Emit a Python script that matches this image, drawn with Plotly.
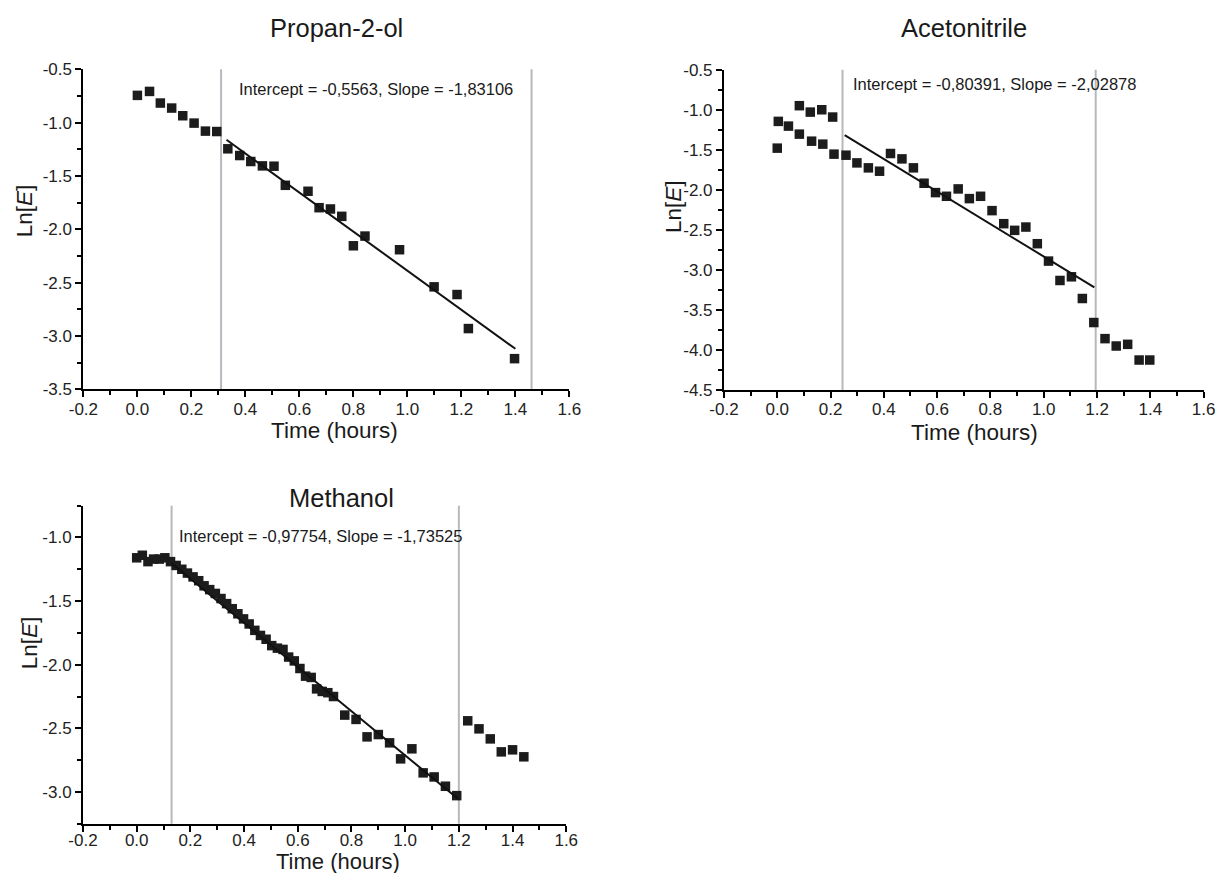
import plotly.graph_objects as go

# ---------------- data ----------------
# Propan-2-ol
prop_t = [0.0, 0.045, 0.085, 0.127, 0.168, 0.21, 0.252, 0.294, 0.335, 0.379, 0.42, 0.463,
          0.506, 0.548, 0.632, 0.673, 0.715, 0.757, 0.80, 0.843, 0.971, 1.099, 1.184, 1.226, 1.397]
prop_ln = [-0.744, -0.707, -0.816, -0.863, -0.935, -1.004, -1.079, -1.083, -1.245, -1.308, -1.364, -1.405,
           -1.408, -1.587, -1.643, -1.797, -1.809, -1.878, -2.154, -2.063, -2.191, -2.539, -2.611, -2.930, -3.212]
prop_window = [0.31, 1.46]
prop_fit_x = [0.33, 1.40]
prop_intercept, prop_slope = -0.5563, -1.83106

# Acetonitrile
acn_t = [0.0, 0.004, 0.042, 0.083, 0.083, 0.124, 0.129, 0.167, 0.171, 0.208, 0.213, 0.258, 0.299,
         0.342, 0.384, 0.425, 0.468, 0.511, 0.551, 0.594, 0.635, 0.679, 0.721, 0.763, 0.806, 0.85,
         0.891, 0.933, 0.976, 1.018, 1.061, 1.104, 1.145, 1.188, 1.23, 1.272, 1.315, 1.358, 1.398]
acn_ln = [-1.48, -1.146, -1.205, -0.95, -1.305, -1.03, -1.393, -1.001, -1.43, -1.092, -1.555, -1.568, -1.664,
          -1.726, -1.768, -1.547, -1.614, -1.726, -1.918, -2.035, -2.081, -1.989, -2.11, -2.081, -2.26, -2.423,
          -2.506, -2.465, -2.673, -2.89, -3.132, -3.086, -3.357, -3.657, -3.858, -3.95, -3.929, -4.125, -4.125]
acn_window = [0.245, 1.195]
acn_fit_x = [0.253, 1.19]
acn_intercept, acn_slope = -0.80391, -2.02878

# Methanol
meoh_t = [0.0, 0.021, 0.042, 0.063, 0.084, 0.105, 0.126, 0.147, 0.168, 0.189, 0.21, 0.231, 0.251,
          0.272, 0.293, 0.314, 0.335, 0.356, 0.377, 0.398, 0.419, 0.44, 0.461, 0.482, 0.503, 0.524,
          0.545, 0.566, 0.587, 0.608, 0.629, 0.65, 0.67, 0.691, 0.712, 0.733,
          0.775, 0.817, 0.858, 0.9, 0.942, 0.983, 1.025, 1.067, 1.108, 1.15, 1.192,
          1.233, 1.275, 1.317, 1.358, 1.4, 1.442]
meoh_ln = [-1.16, -1.14, -1.19, -1.17, -1.17, -1.16, -1.19, -1.22, -1.25, -1.28, -1.31, -1.34, -1.38,
           -1.41, -1.44, -1.48, -1.52, -1.56, -1.60, -1.64, -1.68, -1.73, -1.77, -1.80, -1.85, -1.87,
           -1.88, -1.94, -1.97, -2.03, -2.09, -2.10, -2.19, -2.21, -2.22, -2.25,
           -2.396, -2.43, -2.567, -2.549, -2.614, -2.74, -2.661, -2.85, -2.882, -2.955, -3.029,
           -2.441, -2.504, -2.583, -2.685, -2.669, -2.724]
meoh_window = [0.13, 1.20]
meoh_fit_x = [0.13, 1.20]
meoh_intercept, meoh_slope = -0.97754, -1.73525

titles = ["Propan-2-ol", "Acetonitrile", "Methanol"]
fit_labels = ["Intercept = -0,5563, Slope = -1,83106",
              "Intercept = -0,80391, Slope = -2,02878",
              "Intercept = -0,97754, Slope = -1,73525"]

x_ticks = [-0.2, 0.0, 0.2, 0.4, 0.6, 0.8, 1.0, 1.2, 1.4, 1.6]
x_ticktext = ["-0.2", "0.0", "0.2", "0.4", "0.6", "0.8", "1.0", "1.2", "1.4", "1.6"]
y1_ticks = [-0.5, -1.0, -1.5, -2.0, -2.5, -3.0, -3.5]
y1_ticktext = ["-0.5", "-1.0", "-1.5", "-2.0", "-2.5", "-3.0", "-3.5"]
y2_ticks = [-0.5, -1.0, -1.5, -2.0, -2.5, -3.0, -3.5, -4.0, -4.5]
y2_ticktext = ["-0.5", "-1.0", "-1.5", "-2.0", "-2.5", "-3.0", "-3.5", "-4.0", "-4.5"]
y3_ticks = [-1.0, -1.5, -2.0, -2.5, -3.0]
y3_ticktext = ["-1.0", "-1.5", "-2.0", "-2.5", "-3.0"]

# ---------------- figure ----------------
W, H = 1223, 873
FONT = "Liberation Sans, Arial, Helvetica, sans-serif"
MARK = "#1c1c1c"
GRAY = "#b5b9bd"


# layout positions are given as target picture pixels, converted for the
# slight scaling/offset observed in the rendered picture
def px_x(p):
    return min(max(((p - 14.3) / 0.978) / W, 0), 1)


def px_y(p):
    return min(max(1 - ((p - 8.8) / 0.976) / H, 0), 1)


fig = go.Figure()

panels = [
    dict(t=prop_t, y=prop_ln, win=prop_window, fx=prop_fit_x, b=prop_intercept, m=prop_slope,
         xa="x", ya="y"),
    dict(t=acn_t, y=acn_ln, win=acn_window, fx=acn_fit_x, b=acn_intercept, m=acn_slope,
         xa="x2", ya="y2"),
    dict(t=meoh_t, y=meoh_ln, win=meoh_window, fx=meoh_fit_x, b=meoh_intercept, m=meoh_slope,
         xa="x3", ya="y3"),
]

for p in panels:
    fig.add_trace(go.Scatter(x=p["t"], y=p["y"], mode="markers", xaxis=p["xa"], yaxis=p["ya"],
                             marker=dict(symbol="square", size=9.5, color=MARK, line=dict(width=0)),
                             showlegend=False, cliponaxis=False))
    fy = [p["b"] + p["m"] * xv for xv in p["fx"]]
    fig.add_trace(go.Scatter(x=p["fx"], y=fy, mode="lines", xaxis=p["xa"], yaxis=p["ya"],
                             line=dict(color="#111111", width=2), showlegend=False))
    for xv in p["win"]:
        fig.add_shape(type="line", xref=p["xa"], yref=p["ya"] + " domain", x0=xv, x1=xv, y0=0, y1=1,
                      line=dict(color=GRAY, width=2), layer="below")

# axis geometry in target pixels (left, right, top, bottom)
geo = [(82.7, 568.7, 69.0, 388.3), (723.3, 1203.0, 69.3, 389.0), (82.3, 565.6, 504.3, 821.7)]
yr = [[-3.5, -0.5], [-4.5, -0.5], [-3.25, -0.75]]
yt = [(y1_ticks, y1_ticktext), (y2_ticks, y2_ticktext), (y3_ticks, y3_ticktext)]
x_standoff = [-3, -3, -6]

common_axis = dict(showline=True, linecolor="black", linewidth=2, showgrid=False, zeroline=False,
                   ticks="outside", ticklen=6, tickwidth=2, tickcolor="black",
                   tickfont=dict(family=FONT, size=17, color="#222"))

for i, (l, r, t, b) in enumerate(geo):
    sx = "" if i == 0 else str(i + 1)
    fig.layout["xaxis" + sx] = dict(
        domain=[px_x(l), px_x(r)], range=[-0.2, 1.6], anchor="y" + sx,
        tickmode="array", tickvals=x_ticks, ticktext=x_ticktext, ticklabelstandoff=x_standoff[i],
        minor=dict(tickmode="linear", tick0=-0.2, dtick=0.1, ticks="outside", ticklen=4,
                   tickwidth=2, tickcolor="black"),
        **common_axis)
    fig.layout["yaxis" + sx] = dict(
        domain=[px_y(b), px_y(t)], range=yr[i], anchor="x" + sx,
        tickmode="array", tickvals=yt[i][0], ticktext=yt[i][1],
        minor=dict(tickmode="linear", tick0=-1.0, dtick=0.25, ticks="outside", ticklen=4,
                   tickwidth=2, tickcolor="black"),
        **common_axis)

ann = []
for txt, (cx, cy) in zip(titles, [(336, 28), (963, 28), (341, 497)]):
    ann.append(dict(text=txt, x=px_x(cx), y=px_y(cy), xref="paper", yref="paper",
                    showarrow=False, xanchor="center", yanchor="middle",
                    font=dict(family=FONT, size=25.5, color="#1a1a1a")))
for cx, cy, fs in [(334, 429, 22.5), (974, 431, 22.5), (337, 859, 22)]:
    ann.append(dict(text="Time (hours)", x=px_x(cx), y=px_y(cy), xref="paper", yref="paper",
                    showarrow=False, xanchor="center", yanchor="middle",
                    font=dict(family=FONT, size=fs, color="#1a1a1a")))
for cx, cy in [(24, 210), (672.7, 206), (29, 641)]:
    ann.append(dict(text="Ln[<i>E</i>]", x=px_x(cx), y=px_y(cy), xref="paper", yref="paper",
                    showarrow=False, xanchor="center", yanchor="middle", textangle=-90,
                    font=dict(family=FONT, size=22.5, color="#1a1a1a")))
for txt, (lx, cy) in zip(fit_labels, [(236.5, 89), (850.8, 84), (176, 535)]):
    ann.append(dict(text=txt, x=px_x(lx), y=px_y(cy), xref="paper", yref="paper", showarrow=False,
                    xanchor="left", yanchor="middle",
                    font=dict(family=FONT, size=16.5, color="#1a1a1a")))

fig.update_layout(width=W, height=H, margin=dict(l=0, r=0, t=0, b=0),
                  paper_bgcolor="white", plot_bgcolor="white", annotations=ann,
                  showlegend=False)

fig.write_html("out.html", config={"displayModeBar": False},
               post_script="document.body.style.margin='0';document.body.style.padding='0';"
                           "document.documentElement.style.overflow='hidden';")
